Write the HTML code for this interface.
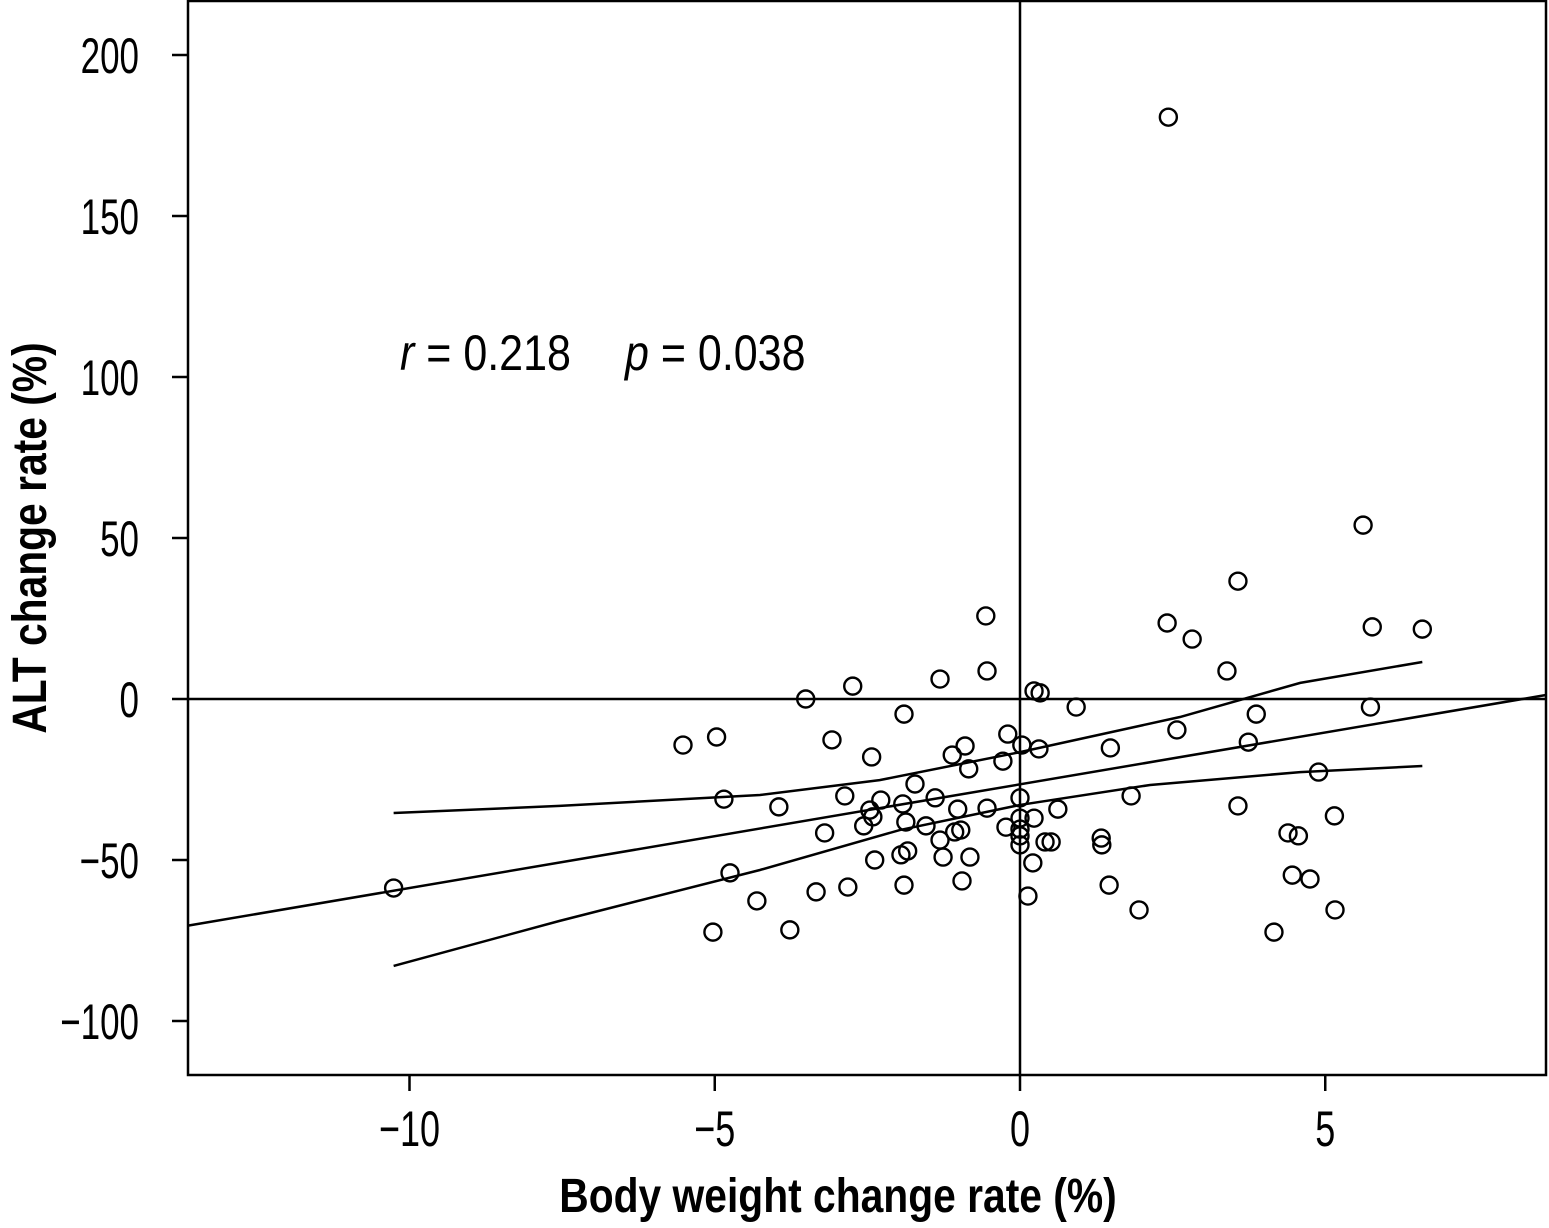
<!DOCTYPE html>
<html><head><meta charset="utf-8"><style>
html,body{margin:0;padding:0;background:#fff}
svg{display:block}
text{font-family:"Liberation Sans",sans-serif;fill:#000}
</style></head><body>
<svg id="chart" width="1549" height="1228" viewBox="0 0 1549 1228" xmlns="http://www.w3.org/2000/svg"></svg>
<script>
const xTicks=[-10,-5,0,5];
const yTicks=[200,150,100,50,0,-50,-100];
const ptsX=[2.43,5.62,3.57,2.41,5.77,6.59,2.82,-0.56,3.39,-0.54,-1.31,-2.74,-3.51,0.23,0.33,0.92,5.74,-1.90,3.87,-0.20,-4.97,-5.52,-3.08,0.03,0.31,2.57,1.48,3.74,-0.90,-1.11,-2.43,-0.28,-0.84,-1.72,4.89,-4.85,-2.87,-2.28,-1.39,1.82,0,-3.95,-1.92,-1.02,-0.54,0.62,3.57,-2.46,0.23,-0.23,0,-2.41,-1.87,-1.54,5.15,-2.56,-0.97,0,-3.20,0,-1.07,-1.31,4.39,4.56,1.33,1.34,0.41,0.51,0,-1.84,-2.38,-1.95,-0.82,-1.26,0.21,-4.75,4.46,4.75,-0.95,-1.90,1.46,-2.82,-3.34,-10.26,-4.31,0.13,1.95,5.16,-5.03,-3.77,4.16];
const ptsY=[180.7,54.0,36.6,23.6,22.4,21.7,18.6,25.8,8.7,8.7,6.2,4.0,0,2.5,1.9,-2.5,-2.5,-4.7,-4.7,-10.9,-11.8,-14.3,-12.7,-14.3,-15.5,-9.6,-15.2,-13.4,-14.6,-17.4,-18.0,-19.3,-21.7,-26.4,-22.7,-31.1,-30.1,-31.4,-30.7,-30.1,-30.7,-33.5,-32.6,-34.2,-33.9,-34.2,-33.2,-34.5,-37.0,-39.8,-37.0,-36.6,-38.2,-39.4,-36.3,-39.4,-40.7,-40.4,-41.6,-42.5,-41.3,-43.8,-41.6,-42.5,-43.2,-45.3,-44.4,-44.4,-45.3,-47.2,-50,-48.4,-49.1,-49.1,-50.9,-54.0,-54.7,-55.9,-56.5,-57.8,-57.8,-58.4,-59.9,-58.7,-62.7,-61.2,-65.5,-65.5,-72.4,-71.7,-72.4];
const fitIntercept=-26.5, fitSlope=3.22;
const bandX=[-10.26,-7.54,-4.26,-2.3,0,2.62,4.59,6.59];
const upperY=[-35.4,-33.2,-29.8,-25.2,-16.5,-5.6,5,11.5];
const lowerX=[-10.26,-7.54,-4.26,-1.97,0,2.13,4.59,6.59];
const lowerY=[-82.9,-68.9,-53.1,-40.7,-32.9,-26.7,-22.7,-20.8];

const L=188,R=1546,T=1,B=1075;
const sx=v=>1020+v*61.05, sy=v=>699-v*3.22;
const xMin=(L-1020)/61.05, xMax=(R-1020)/61.05;
const svg=document.getElementById('chart');
const NS='http://www.w3.org/2000/svg';
function mk(tag,at){const e=document.createElementNS(NS,tag);for(const k in at)e.setAttribute(k,at[k]);svg.appendChild(e);return e;}

let e=mk('rect',{x:L,y:T,width:R-L,height:B-T,fill:'none',stroke:'#000','stroke-width':2.5});


e=mk('line',{x1:sx(0),x2:sx(0),y1:T,y2:B,stroke:'#000','stroke-width':2.5});


e=mk('line',{x1:L,x2:R,y1:sy(0),y2:sy(0),stroke:'#000','stroke-width':2.5});



yTicks.forEach(v=>{
  const y=sy(v);
  let t=mk('line',{x1:172,x2:L,y1:y,y2:y,stroke:'#000','stroke-width':2.5});
  
  
  const s=(v<0?'\u2212':'')+Math.abs(v);
  let tx=mk('text',{x:0,y:0,'font-size':50,'text-anchor':'end',transform:`translate(139,${y+18}) scale(0.7,1)`});
  tx.textContent=s;
  
  
});
xTicks.forEach(v=>{
  const x=sx(v);
  let t=mk('line',{x1:x,x2:x,y1:B,y2:1091,stroke:'#000','stroke-width':2.5});
  
  
  const s=(v<0?'\u2212':'')+Math.abs(v);
  let tx=mk('text',{x:0,y:0,'font-size':50,'text-anchor':'middle',transform:`translate(${x},${1146}) scale(0.72,1)`});
  tx.textContent=s;
  
  
});

e=mk('line',{x1:L,y1:sy(fitIntercept+fitSlope*xMin),x2:R,y2:sy(fitIntercept+fitSlope*xMax),stroke:'#000','stroke-width':2.5});


e=mk('polyline',{points:bandX.map((x,i)=>sx(x)+','+sy(upperY[i])).join(' '),fill:'none',stroke:'#000','stroke-width':2.5});


e=mk('polyline',{points:lowerX.map((x,i)=>sx(x)+','+sy(lowerY[i])).join(' '),fill:'none',stroke:'#000','stroke-width':2.5});



ptsX.forEach((x,i)=>{
  const c=mk('circle',{cx:sx(x),cy:sy(ptsY[i]),r:8.5,fill:'none',stroke:'#000','stroke-width':2.4});
  
  
});

e=mk('text',{x:0,y:0,'font-size':50,transform:'translate(400,370) scale(0.86,1)'});
e.innerHTML='<tspan font-style="italic">r</tspan> = 0.218';


e=mk('text',{x:0,y:0,'font-size':50,transform:'translate(625,370) scale(0.86,1)'});
e.innerHTML='<tspan font-style="italic">p</tspan> = 0.038';



e=mk('text',{x:0,y:0,'font-size':48,'font-weight':'bold','text-anchor':'middle',transform:'translate(838,1212) scale(0.85,1)'});
e.textContent='Body weight change rate (%)';


e=mk('text',{x:0,y:0,'font-size':48,'font-weight':'bold','text-anchor':'middle',transform:'translate(46,538) rotate(-90) scale(0.85,1)'});
e.textContent='ALT change rate (%)';


</script>
</body></html>
